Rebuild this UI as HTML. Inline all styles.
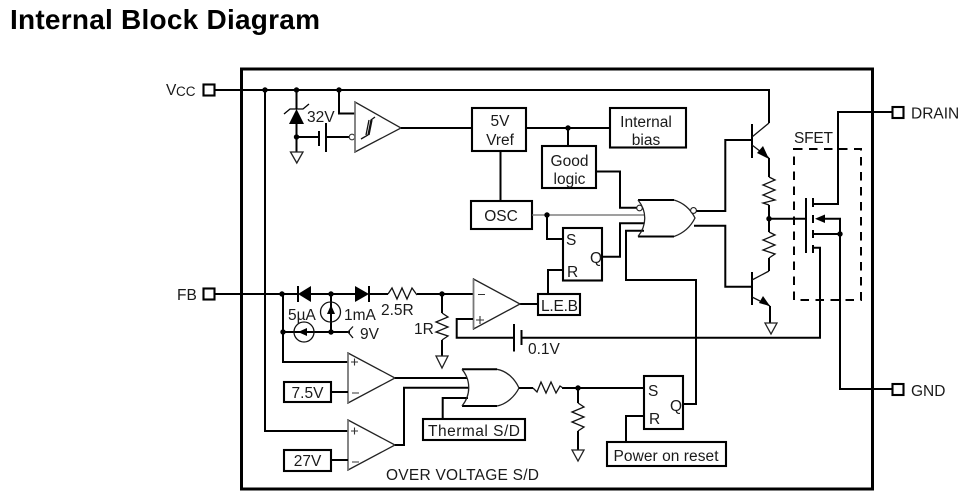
<!DOCTYPE html>
<html><head><meta charset="utf-8"><style>
html,body{margin:0;padding:0;background:#fff;width:969px;height:502px;overflow:hidden}
svg{display:block}
text{font-family:"Liberation Sans",Arial,sans-serif;font-size:15.5px;fill:#1a1a1a}
.w{fill:none;stroke:#000;stroke-width:2}
.b{fill:#fff;stroke:#000;stroke-width:2.1}
.t{fill:#fff;stroke:#222;stroke-width:1.3}
.d{fill:#000;stroke:none}
.c{text-anchor:middle}
</style></head><body>
<svg width="969" height="502" viewBox="0 0 969 502" xmlns="http://www.w3.org/2000/svg">
<text x="10" y="29" style="font-size:28px;font-weight:bold;fill:#000" textLength="310" lengthAdjust="spacing">Internal Block Diagram</text>
<rect x="241.5" y="69" width="631" height="420" fill="none" stroke="#000" stroke-width="3"/>

<!-- pins -->
<rect x="203.500" y="84.500" width="11" height="11" class="b"/>
<rect x="203.500" y="288.500" width="11" height="11" class="b"/>
<rect x="892.500" y="107" width="11" height="11" class="b"/>
<rect x="892.500" y="384" width="11" height="11" class="b"/>
<text x="166" y="95">V</text><text x="176" y="96" style="font-size:13.5px">CC</text>
<text x="177" y="300">FB</text>
<text x="911" y="118.500">DRAIN</text>
<text x="911" y="396">GND</text>

<!-- top rail -->
<path class="w" d="M215 90H769V123M265 90V431H348M296.500 90V109M296.500 123V152M296.500 137H319M326 137H349M339 90V113.500H355"/>
<path class="w" d="M215 294H298M311 294H355M369 294H388M417 294H473M283 294V362H348M442 294V313M442 340V356"/>
<circle cx="265" cy="90" r="2.700" class="d"/><circle cx="296.500" cy="90" r="2.700" class="d"/><circle cx="339" cy="90" r="2.700" class="d"/>
<!-- zener -->
<path class="d" d="M296.500 109L304 124H289Z"/>
<path fill="none" stroke="#000" stroke-width="1.300" d="M284 114L290 109H303L309 104"/>
<circle cx="296.500" cy="137" r="2.700" class="d"/>
<path class="t" d="M290.500 152H303L296.800 163Z"/>
<text x="307" y="122">32V</text>
<path class="w" d="M319 131V146M326 123V152"/>
<circle cx="352" cy="137" r="2.800" fill="#fff" stroke="#333" stroke-width="1.100"/>
<!-- schmitt comparator -->
<path d="M355 102V152L401 128Z" fill="#fff" stroke="#222" stroke-width="1.300"/>
<path d="M355 102V152" stroke="#777" stroke-width="1.600"/>
<path fill="none" stroke="#111" stroke-width="1.300" d="M361 139L368 135L371 120L375 117M366 135L369 120M369 135L372 120"/>
<path class="w" d="M401 128H472M526 128H610M568 128V146M500.500 151V201"/>
<circle cx="568" cy="128" r="2.700" class="d"/>

<!-- boxes -->
<rect x="472" y="108" width="54" height="43" class="b"/>
<text x="500" y="126" class="c">5V</text><text x="500" y="145" class="c">Vref</text>
<rect x="471" y="201" width="61" height="28" class="b"/>
<text x="501" y="221" class="c">OSC</text>
<rect x="610" y="108" width="76" height="39.500" class="b"/>
<text x="646" y="127" class="c">Internal</text><text x="646" y="145" class="c">bias</text>
<rect x="542" y="146" width="54" height="42" class="b"/>
<text x="569.500" y="166" class="c">Good</text><text x="569.500" y="184" class="c">logic</text>

<!-- NOR gate wiring -->
<path class="w" d="M596 171.500H620V207.700H637"/>
<path d="M532 215H645" stroke="#666" stroke-width="1.300"/>
<path class="w" d="M547 215V239H563M602 256.700H620V223.300H644M644 230.700H626V280H696V404H684"/>
<circle cx="547" cy="215" r="2.700" class="d"/>
<path fill="none" stroke="#000" stroke-width="2" d="M638 200H674M638 236.500H674"/>
<path fill="none" stroke="#222" stroke-width="1.300" d="M674 200C684 203 691 210 695 218C691 226 684 233 674 236.500M638 200C647 211 647 225 638 236.500"/>
<circle cx="639.500" cy="208" r="2.800" fill="#fff" stroke="#222" stroke-width="1.100"/>
<circle cx="693.500" cy="210.500" r="2.900" fill="#fff" stroke="#222" stroke-width="1.100"/>
<path class="w" d="M696.500 211H725.300V140H752M694 225.800H725.300V286.700H752"/>

<!-- SR 1 -->
<rect x="563" y="228" width="39" height="52.500" class="b"/>
<text x="566" y="245">S</text><text x="567" y="277">R</text><text x="590" y="263">Q</text>
<path class="w" d="M548 294V270H563M520 304H538"/>
<rect x="538" y="294" width="42" height="21" class="b"/>
<text x="559.500" y="311" class="c" textLength="37">L.E.B</text>

<!-- comparator 2 -->
<path d="M473.500 279V329L520 304Z" fill="#fff" stroke="#222" stroke-width="1.300"/>
<path d="M473.500 279V329" stroke="#777" stroke-width="1.600"/>
<path stroke="#333" stroke-width="1.100" d="M478 294.500H485M476 320H484M480 316V324"/>
<path class="w" d="M473 319H456.700V337.700H514M521.500 337.700H820V247.700H813M514 324V351.500M521.500 330V345"/>
<text x="528" y="354">0.1V</text>

<!-- FB region -->
<circle cx="282" cy="294" r="2.700" class="d"/><circle cx="331" cy="294" r="2.700" class="d"/><circle cx="442" cy="294" r="2.700" class="d"/>
<path class="d" d="M298 294L311 286V302Z"/><path class="w" d="M298 286V302"/>
<path class="d" d="M369 294L355 286V302Z"/><path class="w" d="M369 286V302"/>
<path fill="none" stroke="#111" stroke-width="1.300" d="M388 294L392 288L397 299L402 288L407 299L412 288L417 295"/>
<text x="381" y="315">2.5R</text>
<path fill="none" stroke="#111" stroke-width="1.300" d="M442 313L448 317L436 322L448 327L436 332L448 336L442 340"/>
<path class="t" d="M436 356H448L442 368Z"/>
<text x="414" y="334">1R</text>
<path class="w" d="M331 294V332M283 332H350"/>
<circle cx="331" cy="332" r="2.700" class="d"/><circle cx="283" cy="332" r="2.700" class="d"/>
<circle cx="330.500" cy="312" r="10" fill="none" stroke="#111" stroke-width="1.300"/>
<path class="d" d="M331 305L335 314H327Z"/>
<circle cx="304" cy="332" r="10" fill="none" stroke="#111" stroke-width="1.300"/>
<path class="d" d="M298 332L307 328V336Z"/>
<path fill="none" stroke="#111" stroke-width="1.300" d="M353 326.500L348 332L353 338"/>
<text x="288" y="320">5&#181;A</text>
<text x="344" y="320">1mA</text>
<text x="360" y="339">9V</text>

<!-- comparators lower -->
<path d="M348 353V403L395 378Z" fill="#fff" stroke="#222" stroke-width="1.300"/>
<path d="M348 353V403" stroke="#777" stroke-width="1.600"/>
<path stroke="#333" stroke-width="1.100" d="M351 362H358M354.500 358.500V365.500M352 393H359"/>
<path d="M348 420V470L395 445Z" fill="#fff" stroke="#222" stroke-width="1.300"/>
<path d="M348 420V470" stroke="#777" stroke-width="1.600"/>
<path stroke="#333" stroke-width="1.100" d="M351 431H358M354.500 427.500V434.500M352 462H359"/>
<rect x="284" y="382" width="47" height="20" class="b"/><text x="307.500" y="398" class="c">7.5V</text>
<rect x="284" y="450" width="47" height="21" class="b"/><text x="307.500" y="466" class="c">27V</text>
<path class="w" d="M331 392H348M331 460H348M395 378H467M395 445H404V387.700H469M442.700 419V398H468"/>

<!-- OR gate -->
<path fill="none" stroke="#000" stroke-width="2" d="M462 369.300H497M462 406H497"/>
<path fill="none" stroke="#222" stroke-width="1.300" d="M497 369.300C507 371 515 379 519 388C515 396 507 404 497 406M462 369.300C471 380 471 395 462 406"/>
<rect x="423" y="419" width="102" height="21" class="b"/>
<text x="474" y="436" class="c" textLength="92">Thermal S/D</text>
<text x="386" y="480" textLength="153">OVER VOLTAGE S/D</text>

<!-- lower right -->
<path class="w" d="M519 388H533M562 388H644M578 388V403M578 431V450"/>
<circle cx="578" cy="388" r="2.700" class="d"/>
<path fill="none" stroke="#111" stroke-width="1.300" d="M533 388L537 392L541 382L546 393L551 382L556 393L560 386L563 388"/>
<path fill="none" stroke="#111" stroke-width="1.300" d="M578 403L584 407L572 412L584 417L572 422L584 427L578 431"/>
<path class="t" d="M572 450H584L578 461Z"/>
<rect x="644" y="376" width="39" height="53" class="b"/>
<text x="648" y="396">S</text><text x="649" y="424">R</text><text x="670" y="411">Q</text>
<path class="w" d="M644 416H626V442"/>
<rect x="607" y="442" width="119" height="24" class="b"/>
<text x="666" y="461" class="c" textLength="105">Power on reset</text>

<!-- BJTs -->
<path class="w" d="M752 124V158M752 272V305"/>
<path fill="none" stroke="#111" stroke-width="1.300" d="M752 137L769 123M752 145L769 158M752 280L769 271M752 297L770 306"/>
<path class="d" d="M769 159L757 153L763 146Z"/>
<path class="d" d="M770 306L759 303L763 296Z"/>
<path class="w" d="M769 158V177M769 205V232M769 258V271M770 306V323M769 218.700H806"/>
<path fill="none" stroke="#111" stroke-width="1.300" d="M769 177L775 180L763 185L775 190L763 195L775 200L763 203L769 205"/>
<path fill="none" stroke="#111" stroke-width="1.300" d="M769 232L775 235L763 240L775 245L763 250L775 254L769 258"/>
<circle cx="769" cy="218.700" r="2.700" class="d"/>
<path class="t" d="M765 323H777L771 334Z"/>

<!-- SFET -->
<text x="794" y="143" textLength="39">SFET</text>
<rect x="794" y="149" width="67" height="151" fill="none" stroke="#000" stroke-width="2" stroke-dasharray="8.500 6.500"/>
<path class="w" d="M806 198V253M813 198V207M813 215V223M813 230V238M813 245V253"/>
<path class="w" d="M892 112H838V204H813M822 218.700H840V389H892M813 234H840"/>
<path class="d" d="M815 218.700L825 214.500V223Z"/>
<circle cx="840" cy="234" r="2.700" class="d"/>
</svg>
</body></html>
